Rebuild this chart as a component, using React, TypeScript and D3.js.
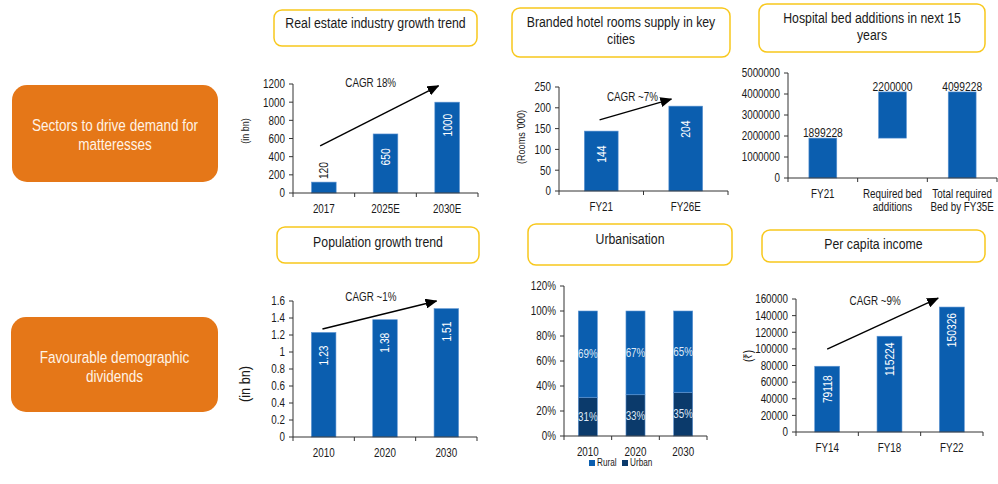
import React from "react";
import * as d3 from "d3";

const FONT = "'Liberation Sans', Arial, sans-serif";
const NARROW = 0.82;
const BLUE = "#0B5EAF";
const NAVY = "#0B3A6B";
const ORANGE = "#E57718";
const YELLOW = "#F8C81C";
const AXIS = "#333333";
const TEXT = "#1a1a1a";

// Real estate industry growth trend
const reCats = ["2017", "2025E", "2030E"];
const reValues = [120, 650, 1000];
const reTicks = [0, 200, 400, 600, 800, 1000, 1200];

// Branded hotel rooms supply
const hotelCats = ["FY21", "FY26E"];
const hotelValues = [144, 204];
const hotelTicks = [0, 50, 100, 150, 200, 250];

// Hospital bed additions
const hospCats = ["FY21", "Required bed\nadditions", "Total required\nBed by FY35E"];
const hospValues = [1899228, 2200000, 4099228];
const hospTicks = [0, 1000000, 2000000, 3000000, 4000000, 5000000];

// Population growth trend
const popCats = ["2010", "2020", "2030"];
const popValues = [1.23, 1.38, 1.51];
const popTicks = [0, 0.2, 0.4, 0.6, 0.8, 1, 1.2, 1.4, 1.6];

// Urbanisation
const urbCats = ["2010", "2020", "2030"];
const urbanShare = [31, 33, 35];
const ruralShare = [69, 67, 65];
const urbTicks = [0, 20, 40, 60, 80, 100, 120];

// Per capita income
const pciCats = ["FY14", "FY18", "FY22"];
const pciValues = [79118, 115224, 150326];
const pciTicks = [0, 20000, 40000, 60000, 80000, 100000, 120000, 140000, 160000];

type TProps = {
  x: number; y: number; rot?: number; anchor?: string; baseline?: string;
  size: number; fill?: string; children: any; sx?: number;
};
function T({ x, y, rot = 0, anchor = "start", baseline = "auto", size, fill = TEXT, children, sx = NARROW }: TProps) {
  return (
    <text transform={`translate(${x},${y}) rotate(${rot}) scale(${sx},1)`} textAnchor={anchor} dominantBaseline={baseline}
      fontSize={size} fill={fill} fontFamily={FONT}>{children}</text>
  );
}

type BarSpec = { i: number; v0: number; v1: number; color: string; label: string; mode: string };
type Arrow = { f0: number; v0: number; f1: number; v1: number };

type PanelProps = {
  x0: number; x1: number; yTop: number; yBottom: number;
  max: number; ticks: number[]; fmt: (v: number) => string;
  cats: string[]; bars: BarSpec[];
  arrow?: Arrow; cagr?: { text: string; f: number; v: number };
  yLabel?: string; yLabelX?: number; yLabelY?: number; yLabelSize?: number;
};

function Panel(p: PanelProps) {
  const x = d3.scaleBand<number>().domain(d3.range(p.cats.length)).range([p.x0, p.x1]).padding(0);
  const y = d3.scaleLinear().domain([0, p.max]).range([p.yBottom, p.yTop]);
  const bw = x.step() * 0.4;
  const fx = (f: number) => p.x0 + x.step() * (f + 0.5);
  return (
    <g>
      {p.bars.map((b, k) => {
        const cx = fx(b.i);
        const yt = y(Math.max(b.v0, b.v1));
        const yb = y(Math.min(b.v0, b.v1));
        let lab: any = null;
        if (b.mode === "inRot") {
          lab = <T x={cx} y={yt + 23} rot={-90} anchor="middle" baseline="central" size={12.5} fill="#ffffff">{b.label}</T>;
        } else if (b.mode === "aboveRot") {
          lab = <T x={cx} y={yt - 3} rot={-90} anchor="start" baseline="central" size={12.5}>{b.label}</T>;
        } else if (b.mode === "above") {
          lab = <T x={cx} y={yt - 1} anchor="middle" size={12.5}>{b.label}</T>;
        } else if (b.mode === "center") {
          lab = <T x={cx} y={(yt + yb) / 2} anchor="middle" baseline="central" size={12} fill="#dfe8f5">{b.label}</T>;
        }
        return (
          <g key={k}>
            <rect x={cx - bw / 2} y={yt} width={bw} height={yb - yt} fill={b.color} stroke="#5f95d3" strokeWidth={0.6} />
            {lab}
          </g>
        );
      })}
      <line x1={p.x0} x2={p.x0} y1={p.yTop} y2={p.yBottom} stroke={AXIS} strokeWidth={1} />
      {p.ticks.map((t) => (
        <g key={t}>
          <line x1={p.x0 - 4} x2={p.x0} y1={y(t)} y2={y(t)} stroke={AXIS} />
          <T x={p.x0 - 8} y={y(t)} anchor="end" baseline="central" size={12}>{p.fmt(t)}</T>
        </g>
      ))}
      <line x1={p.x0} x2={p.x1} y1={p.yBottom} y2={p.yBottom} stroke={AXIS} />
      {d3.range(p.cats.length + 1).map((i) => (
        <line key={i} x1={p.x0 + i * x.step()} x2={p.x0 + i * x.step()} y1={p.yBottom} y2={p.yBottom + 4} stroke={AXIS} />
      ))}
      {p.cats.map((c, i) =>
        c.split("\n").map((ln, j) => (
          <T key={c + j} x={fx(i)} y={p.yBottom + 20 + j * 12.5} anchor="middle" size={12}>{ln}</T>
        ))
      )}
      {p.yLabel && (
        <T x={p.yLabelX ?? 0} y={p.yLabelY ?? (p.yTop + p.yBottom) / 2} rot={-90} anchor="middle" baseline="central" size={p.yLabelSize ?? 10}>{p.yLabel}</T>
      )}
      {p.arrow && (
        <line x1={fx(p.arrow.f0)} y1={y(p.arrow.v0)} x2={fx(p.arrow.f1)} y2={y(p.arrow.v1)} stroke="#000" strokeWidth={1.4} markerEnd={`url(#ah)`} />
      )}
      {p.cagr && (
        <T x={fx(p.cagr.f)} y={y(p.cagr.v)} anchor="middle" baseline="central" size={12}>{p.cagr.text}</T>
      )}
    </g>
  );
}

function TitleBox({ x, y, w, h, ty, lines }: { x: number; y: number; w: number; h: number; ty: number; lines: string[] }) {
  const lh = 17;
  return (
    <g>
      <rect x={x} y={y} width={w} height={h} rx={8} fill="#fff" stroke={YELLOW} strokeWidth={1.5} />
      {lines.map((l, i) => (
        <T key={i} x={x + w / 2} y={ty + i * lh} anchor="middle" baseline="central" size={15}>{l}</T>
      ))}
    </g>
  );
}

function OrangeBox({ x, y, w, h, ty, lines }: { x: number; y: number; w: number; h: number; ty: number; lines: string[] }) {
  const lh = 18.5;
  return (
    <g>
      <rect x={x} y={y} width={w} height={h} rx={15} fill={ORANGE} />
      {lines.map((l, i) => (
        <T key={i} x={x + w / 2} y={ty + i * lh} anchor="middle" baseline="central" size={16.5} fill="#FFF3E6">{l}</T>
      ))}
    </g>
  );
}

const fmtInt = (v: number) => String(v);
const fmtDec = (v: number) => (v === 0 ? "0" : String(Math.round(v * 10) / 10));
const fmtPct = (v: number) => `${v}%`;

export default function App() {
  const reBars: BarSpec[] = reValues.map((v, i) => ({ i, v0: 0, v1: v, color: BLUE, label: String(v), mode: v < 300 ? "aboveRot" : "inRot" }));
  const hotelBars: BarSpec[] = hotelValues.map((v, i) => ({ i, v0: 0, v1: v, color: BLUE, label: String(v), mode: "inRot" }));
  const hospBars: BarSpec[] = hospValues.map((v, i) => {
    const isStep = i > 0 && i < hospValues.length - 1;
    const base = isStep ? hospValues[i - 1] : 0;
    return { i, v0: base, v1: isStep ? base + v : v, color: BLUE, label: String(v), mode: "above" };
  });
  const popBars: BarSpec[] = popValues.map((v, i) => ({ i, v0: 0, v1: v, color: BLUE, label: v.toFixed(2), mode: "inRot" }));
  const urbBars: BarSpec[] = [];
  urbCats.forEach((_, i) => {
    urbBars.push({ i, v0: 0, v1: urbanShare[i], color: NAVY, label: `${urbanShare[i]}%`, mode: "center" });
    urbBars.push({ i, v0: urbanShare[i], v1: urbanShare[i] + ruralShare[i], color: BLUE, label: `${ruralShare[i]}%`, mode: "center" });
  });
  const pciBars: BarSpec[] = pciValues.map((v, i) => ({ i, v0: 0, v1: v, color: BLUE, label: String(v), mode: "inRot" }));

  return (
    <div style={{ position: "absolute", left: 0, top: 0 }}>
      <svg width={998} height={484} style={{ display: "block", background: "#fff" }}>
        <defs>
          <marker id="ah" markerWidth={12} markerHeight={10} refX={11} refY={5} orient="auto" markerUnits="userSpaceOnUse">
            <polygon points="0,0 12,5 0,10" fill="#000" />
          </marker>
        </defs>

        <OrangeBox x={12} y={85} w={206} h={97} ty={125} lines={["Sectors  to drive demand for", "matteresses"]} />
        <OrangeBox x={11} y={317} w={207} h={95} ty={357} lines={["Favourable demographic", "dividends"]} />

        <TitleBox x={274} y={10} w={203} h={36} ty={23} lines={["Real estate industry growth trend"]} />
        <TitleBox x={512} y={8} w={218} h={49} ty={22} lines={["Branded hotel rooms supply in key", "cities"]} />
        <TitleBox x={759} y={4} w={226} h={48} ty={18} lines={["Hospital bed additions in next 15", "years"]} />
        <TitleBox x={277} y={227} w={202} h={36} ty={242} lines={["Population growth trend"]} />
        <TitleBox x={528} y={224} w={204} h={41} ty={239} lines={["Urbanisation"]} />
        <TitleBox x={762} y={230} w={223} h={32} ty={244} lines={["Per capita income"]} />

        <Panel x0={293} x1={478} yTop={84} yBottom={193} max={1200} ticks={reTicks} fmt={fmtInt}
          cats={reCats} bars={reBars}
          arrow={{ f0: -0.06, v0: 520, f1: 1.86, v1: 1180 }}
          cagr={{ text: "CAGR 18%", f: 0.76, v: 1210 }}
          yLabel="(in bn)" yLabelX={245} yLabelY={131} yLabelSize={11} />

        <Panel x0={559} x1={728} yTop={87} yBottom={191} max={250} ticks={hotelTicks} fmt={fmtInt}
          cats={hotelCats} bars={hotelBars}
          arrow={{ f0: -0.02, v0: 171, f1: 0.83, v1: 221 }}
          cagr={{ text: "CAGR ~7%", f: 0.37, v: 226 }}
          yLabel="(Rooms '000)" yLabelX={521} yLabelY={137} yLabelSize={11} />

        <Panel x0={788} x1={997} yTop={73} yBottom={178} max={5000000} ticks={hospTicks} fmt={fmtInt}
          cats={hospCats} bars={hospBars} />

        <Panel x0={293} x1={477} yTop={301} yBottom={437} max={1.6} ticks={popTicks} fmt={fmtDec}
          cats={popCats} bars={popBars}
          arrow={{ f0: -0.02, v0: 1.27, f1: 1.84, v1: 1.6 }}
          cagr={{ text: "CAGR ~1%", f: 0.77, v: 1.65 }}
          yLabel="(in bn)" yLabelX={245} yLabelY={384} yLabelSize={15.5} />

        <Panel x0={564} x1={707} yTop={286} yBottom={436} max={120} ticks={urbTicks} fmt={fmtPct}
          cats={urbCats} bars={urbBars} />

        <Panel x0={796} x1={983} yTop={299} yBottom={432} max={160000} ticks={pciTicks} fmt={fmtInt}
          cats={pciCats} bars={pciBars}
          arrow={{ f0: 0, v0: 99800, f1: 1.78, v1: 161000 }}
          cagr={{ text: "CAGR ~9%", f: 0.77, v: 157500 }}
          yLabel="(₹)" yLabelX={748} yLabelY={356} yLabelSize={12} />

        {["Rural", "Urban"].map((name, k) => (
          <g key={name}>
            <rect x={589 + k * 33} y={460} width={6} height={6} fill={k === 0 ? BLUE : NAVY} />
            <T x={597 + k * 33} y={463} baseline="central" size={10}>{name}</T>
          </g>
        ))}
      </svg>
    </div>
  );
}
